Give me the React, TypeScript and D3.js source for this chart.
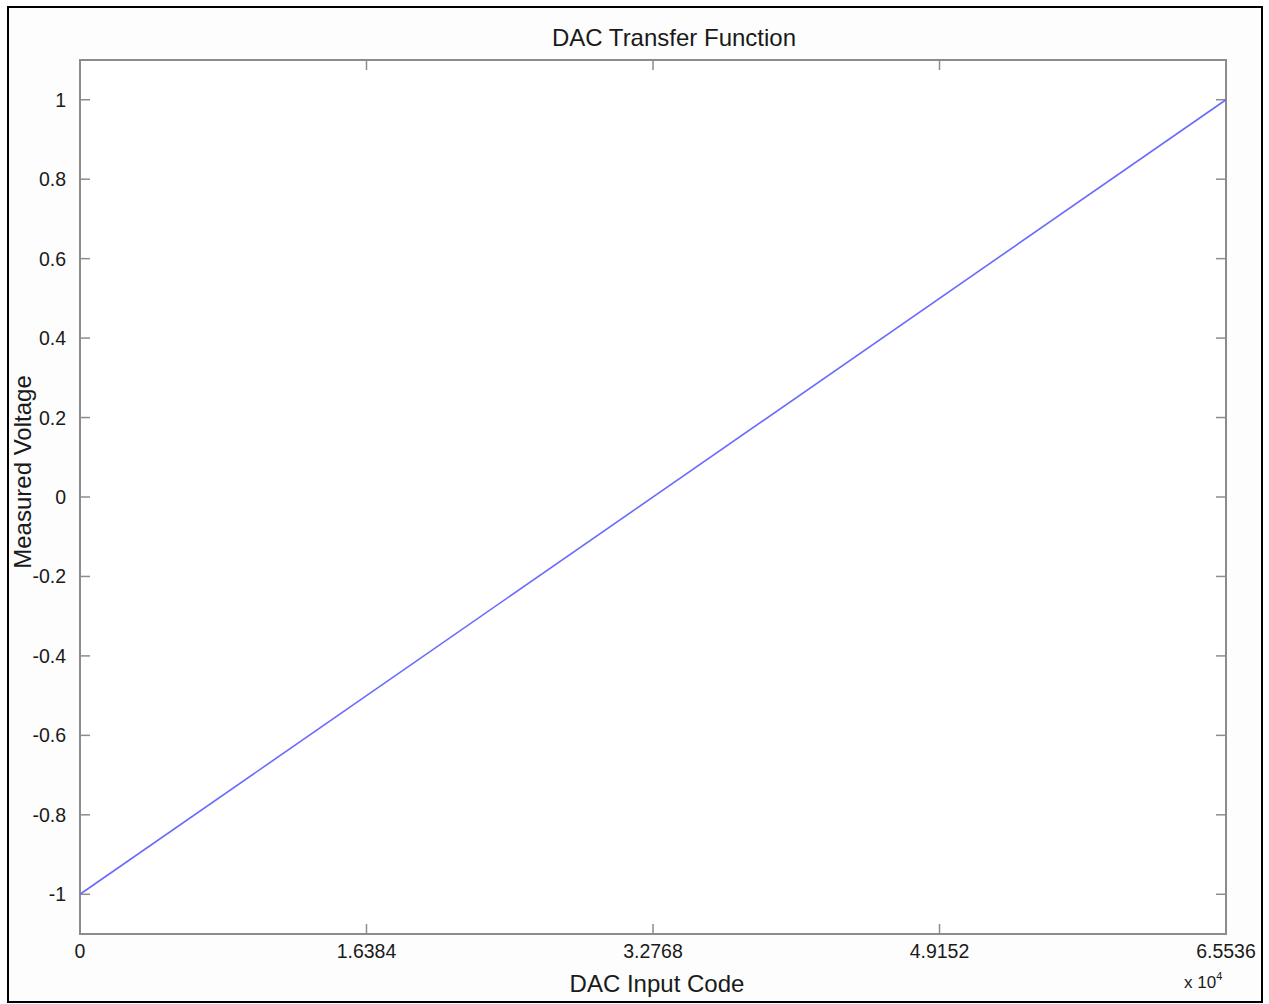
import React from "react";
import * as d3 from "d3";

const codes = [0, 65536];
const voltages = [-1, 1];
const xTicks = [0, 16384, 32768, 49152, 65536];
const xTickLabels = ["0", "1.6384", "3.2768", "4.9152", "6.5536"];
const yTicks = [-1, -0.8, -0.6, -0.4, -0.2, 0, 0.2, 0.4, 0.6, 0.8, 1];
const yTickLabels = ["-1", "-0.8", "-0.6", "-0.4", "-0.2", "0", "0.2", "0.4", "0.6", "0.8", "1"];

const W = 1269;
const H = 1004;
const M = { left: 80, top: 60, right: 1226, bottom: 934 };
const FONT = "'Liberation Sans', Arial, Helvetica, sans-serif";

export default function App() {
  const x = d3.scaleLinear().domain([0, 65536]).range([M.left, M.right]);
  const y = d3.scaleLinear().domain([-1.1, 1.1]).range([M.bottom, M.top]);
  const pts = codes.map((c, i) => [c, voltages[i]] as [number, number]);
  const line = d3.line<[number, number]>().x((d) => x(d[0])).y((d) => y(d[1]));
  const axisColor = "#8c8c8c";
  const textColor = "#1a1a1a";
  const tl = 10;
  return (
    <svg width={W} height={H} style={{ position: "absolute", left: 0, top: 0, display: "block" }} fontFamily={FONT}>
      <rect x={0} y={0} width={W} height={H} fill="#fff" />
      <rect x={8} y={7} width={1254} height={995} fill="#fdfdfd" stroke="#000" strokeWidth={2} />
      <rect x={M.left} y={M.top} width={M.right - M.left} height={M.bottom - M.top} fill="#fff" stroke={axisColor} strokeWidth={2} />
      {xTicks.map((t, i) => (
        <g key={"xt" + i}>
          <line x1={x(t)} x2={x(t)} y1={M.bottom} y2={M.bottom - tl} stroke={axisColor} strokeWidth={1.5} />
          <line x1={x(t)} x2={x(t)} y1={M.top} y2={M.top + tl} stroke={axisColor} strokeWidth={1.5} />
          <text x={x(t)} y={958} textAnchor="middle" fontSize={19.5} fill={textColor}>
            {xTickLabels[i]}
          </text>
        </g>
      ))}
      {yTicks.map((t, i) => (
        <g key={"yt" + i}>
          <line x1={M.left} x2={M.left + tl} y1={y(t)} y2={y(t)} stroke={axisColor} strokeWidth={1.5} />
          <line x1={M.right} x2={M.right - tl} y1={y(t)} y2={y(t)} stroke={axisColor} strokeWidth={1.5} />
          <text x={66} y={y(t) + 7} textAnchor="end" fontSize={19.5} fill={textColor}>
            {yTickLabels[i]}
          </text>
        </g>
      ))}
      <path d={line(pts) || ""} fill="none" stroke="#6a6aff" strokeWidth={1.6} />
      <text x={674} y={46} textAnchor="middle" fontSize={24} fill={textColor}>
        DAC Transfer Function
      </text>
      <text x={657} y={992} textAnchor="middle" fontSize={24} fill={textColor}>
        DAC Input Code
      </text>
      <text transform={`translate(31, 472) rotate(-90)`} textAnchor="middle" fontSize={24} fill={textColor}>
        Measured Voltage
      </text>
      <text x={1184} y={988} fontSize={17} fill={textColor}>
        x 10
        <tspan dy={-8} fontSize={11}>4</tspan>
      </text>
    </svg>
  );
}
